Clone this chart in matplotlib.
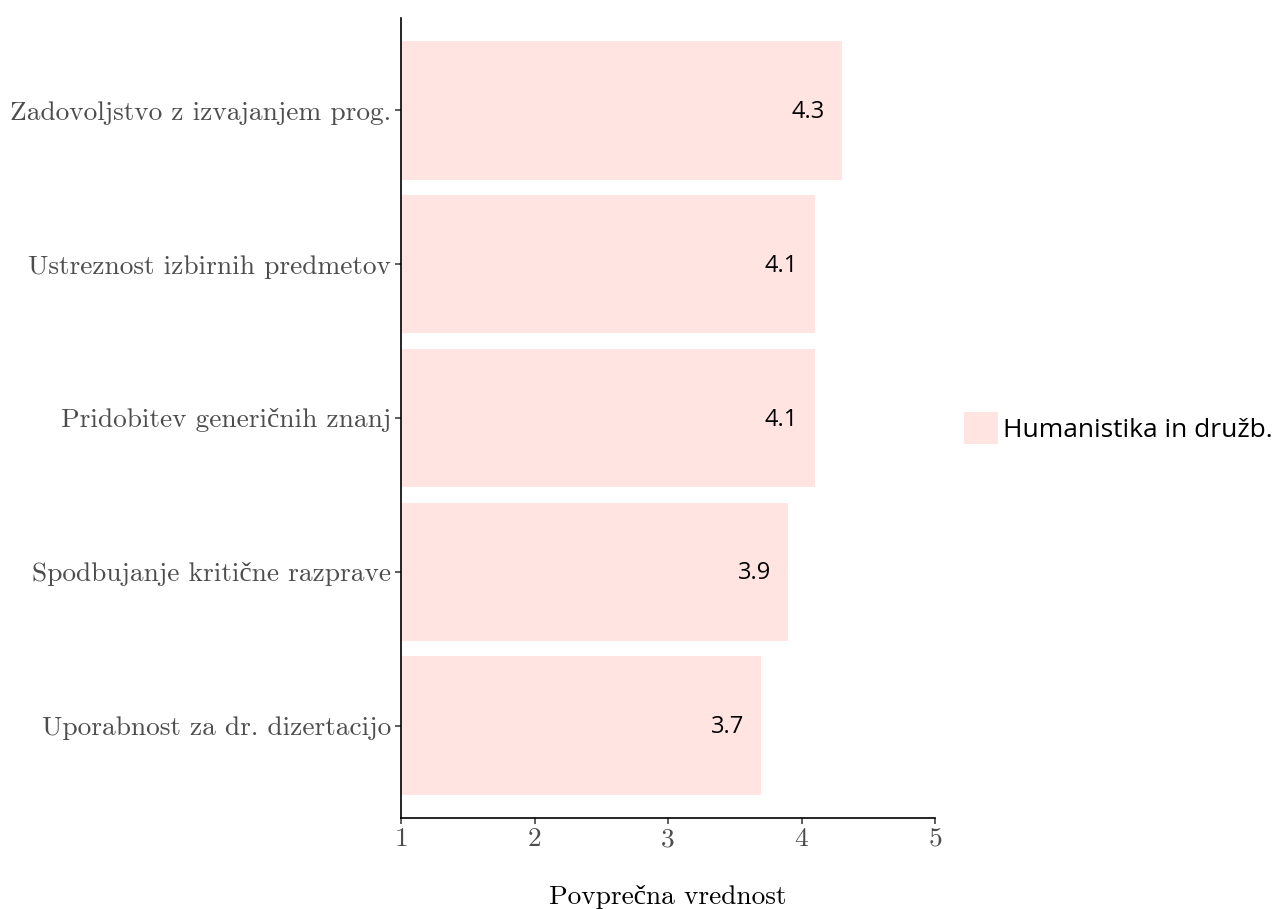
import matplotlib
matplotlib.use("Agg")
from matplotlib import pyplot as plt
from matplotlib.patches import Patch

categories = ["Uporabnost za dr. dizertacijo", "Spodbujanje kritične razprave",
              "Pridobitev generičnih znanj", "Ustreznost izbirnih predmetov",
              "Zadovoljstvo z izvajanjem prog."]
values = [3.7, 3.9, 4.1, 4.1, 4.3]
legend_label = "Humanistika in družb."
xlabel = "Povprečna vrednost"

# cmr10 has no č, the next family fills it in
serif = ["cmr10", "Liberation Serif"]
sans = ["Open Sans", "DejaVu Sans"]
plt.rcParams["axes.formatter.use_mathtext"] = True

fig = plt.figure(figsize=(12.77, 9.09), dpi=100)
ax = fig.add_axes([401 / 1277, 1 - 818 / 909, 534 / 1277, 800 / 909])

pos = list(range(len(categories)))
ax.barh(pos, values, height=0.9, color="#FFE4E1", zorder=2)

for p, v in zip(pos, values):
    ax.text(v - 0.25, p - 0.01, f"{v:.1f}", ha="center", va="center",
            fontsize=17, family=sans, color="black", zorder=3)

ax.set_xlim(1, 5)
ax.set_ylim(-0.6, 4.6)
ax.set_yticks(pos)
ax.set_yticklabels(categories, family=serif, fontsize=19.7, color="#4d4d4d")
ax.set_xticks([1, 2, 3, 4, 5])
ax.set_xticklabels(["1", "2", "3", "4", "5"], family=serif, fontsize=19.7, color="#4d4d4d")
ax.set_xlabel(xlabel, family=serif, fontsize=19.7, color="black", labelpad=24)

for s in ["top", "right"]:
    ax.spines[s].set_visible(False)
for s in ["left", "bottom"]:
    ax.spines[s].set_linewidth(1.2)
    ax.spines[s].set_color("black")
ax.tick_params(axis="both", direction="out", length=4, width=1.1, color="#333333", pad=3)

handle = Patch(facecolor="#FFE4E1", edgecolor="none")
fig.legend([handle], [legend_label], loc="center left",
           bbox_to_anchor=(940 / 1277, 1 - 428 / 909), frameon=False,
           prop={"family": sans, "size": 19}, handlelength=1.3, handleheight=1.5,
           handletextpad=0.2)

fig.savefig("out.png", dpi=100)
